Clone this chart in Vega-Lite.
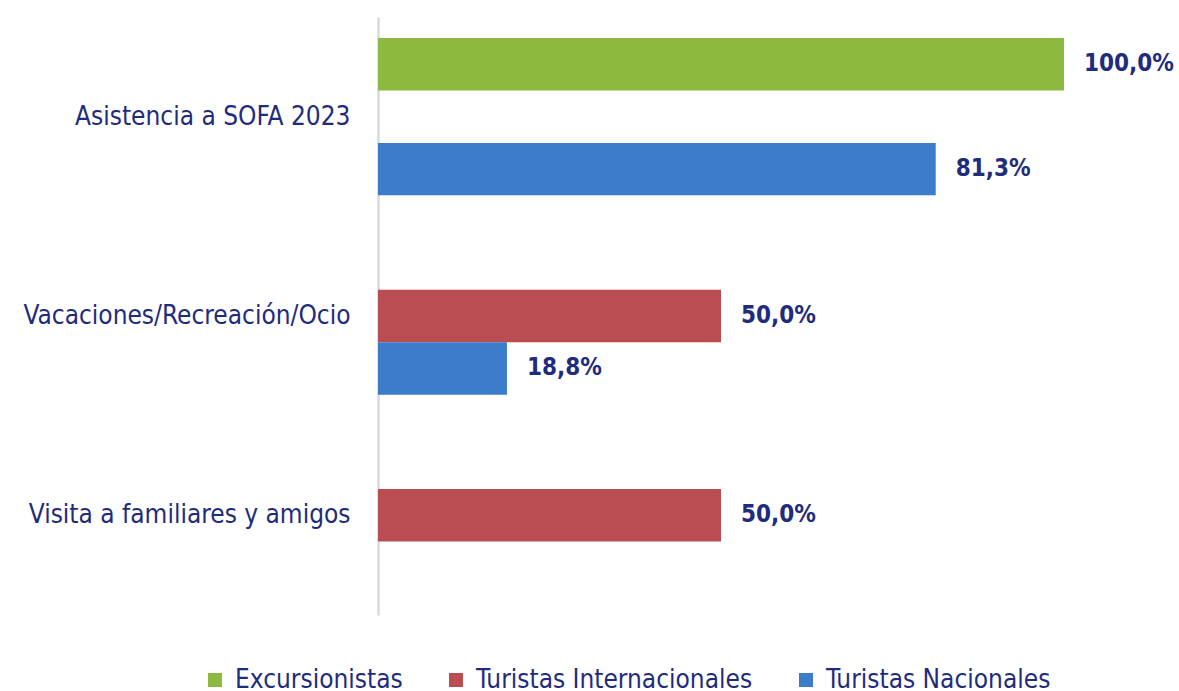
{
  "$schema": "https://vega.github.io/schema/vega-lite/v6.json",
  "width": 686,
  "height": 598,
  "padding": {"left": 8, "top": 17, "right": 0, "bottom": 0},
  "autosize": {"type": "pad"},
  "config": {
    "view": {"stroke": null},
    "font": "DejaVu Sans Condensed, sans-serif",
    "locale": {"number": {"decimal": ",", "thousands": ".", "grouping": [3], "currency": ["", " €"]}}
  },
  "data": {"values": [
    {"motivo": "Asistencia a SOFA 2023", "tipo": "Excursionistas", "valor": 1.0},
    {"motivo": "Asistencia a SOFA 2023", "tipo": "Turistas Nacionales", "valor": 0.813},
    {"motivo": "Vacaciones/Recreación/Ocio", "tipo": "Turistas Internacionales", "valor": 0.5},
    {"motivo": "Vacaciones/Recreación/Ocio", "tipo": "Turistas Nacionales", "valor": 0.188},
    {"motivo": "Visita a familiares y amigos", "tipo": "Turistas Internacionales", "valor": 0.5}
  ]},
  "encoding": {
    "y": {
      "field": "motivo", "type": "nominal",
      "sort": ["Asistencia a SOFA 2023", "Vacaciones/Recreación/Ocio", "Visita a familiares y amigos"],
      "scale": {"paddingInner": 0, "paddingOuter": 0},
      "axis": {
        "title": null, "ticks": false, "labelFontSize": 26, "labelColor": "#1F2C7C",
        "labelPadding": 28, "domainColor": "#D5D9E0", "domainWidth": 2.5,
        "minExtent": 370, "maxExtent": 370, "labelLimit": 400
      }
    },
    "yOffset": {
      "field": "tipo", "type": "nominal",
      "scale": {"domain": ["Excursionistas", "Turistas Internacionales", "Turistas Nacionales"], "paddingInner": 0, "paddingOuter": 0.4}
    },
    "x": {"field": "valor", "type": "quantitative", "scale": {"domain": [0, 1]}, "axis": null}
  },
  "layer": [
    {
      "mark": {"type": "bar"},
      "encoding": {
        "color": {
          "field": "tipo", "type": "nominal",
          "scale": {"domain": ["Excursionistas", "Turistas Internacionales", "Turistas Nacionales"], "range": ["#8CB940", "#B94D52", "#3D7CC9"]},
          "legend": {
            "title": null, "orient": "none", "direction": "horizontal", "legendX": -176, "legendY": 650,
            "symbolType": "square", "symbolSize": 196, "symbolStrokeWidth": 0, "labelFontSize": 26,
            "labelColor": "#1F2C7C", "labelOffset": 7, "columnPadding": 40, "labelLimit": 400
          }
        }
      }
    },
    {
      "mark": {"type": "text", "align": "left", "baseline": "middle", "dx": 20, "fontSize": 24, "fontWeight": "bold", "color": "#1F2C7C"},
      "encoding": {"text": {"field": "valor", "type": "quantitative", "format": ".1%"}}
    }
  ]
}
